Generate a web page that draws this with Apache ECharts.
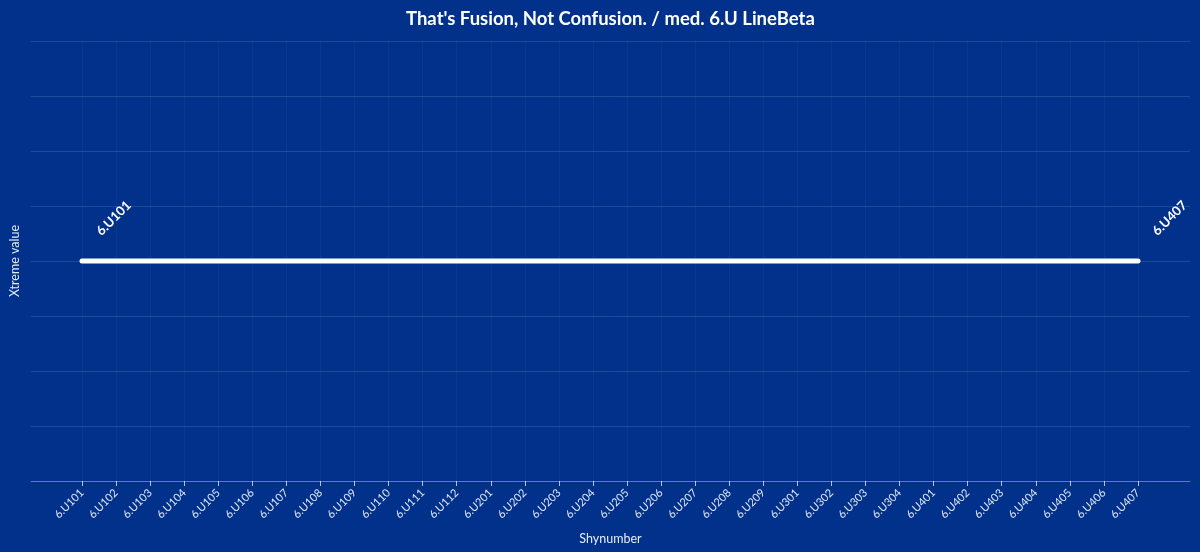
<!DOCTYPE html>
<html><head><meta charset="utf-8">
<script src="https://cdn.jsdelivr.net/npm/echarts@6/dist/echarts.min.js"></script>
<style>html,body{margin:0;padding:0;background:#01318a;}#c{width:1200px;height:552px;}</style>
</head><body><div id="c"></div>
<script>
const categories = ['6.U101','6.U102','6.U103','6.U104','6.U105','6.U106','6.U107','6.U108','6.U109','6.U110','6.U111','6.U112',
  '6.U201','6.U202','6.U203','6.U204','6.U205','6.U206','6.U207','6.U208','6.U209',
  '6.U301','6.U302','6.U303','6.U304',
  '6.U401','6.U402','6.U403','6.U404','6.U405','6.U406','6.U407'];
const values = [4,4,4,4,4,4,4,4,4,4,4,4,4,4,4,4,4,4,4,4,4,4,4,4,4,4,4,4,4,4,4,4];
const titleText = "That's Fusion, Not Confusion. / med. 6.U LineBeta";

const FONT = 'Lato';
const endLabel = {show:true, rotate:45, position:'top', distance:0, align:'left', verticalAlign:'bottom',
  offset:[31,-1], color:'#ffffff', fontWeight:'bold', fontSize:13, fontFamily:FONT, formatter:'{b}'};
const seriesData = values.map((v,i)=>{
  const d = {value:v};
  if (i===0 || i===values.length-1) d.label = endLabel;
  return d;
});

const chart = echarts.init(document.getElementById('c'));
chart.setOption({
  backgroundColor:'#01318a',
  animation:false,
  textStyle:{fontFamily:FONT},
  title:{text:titleText, left:401, top:5,
    textStyle:{color:'#ffffff', fontSize:18.5, fontWeight:'bold', fontFamily:FONT}},
  grid:[
    {left:30, right:10, top:41, bottom:71, containLabel:false},
    {left:82, right:62, top:41, bottom:71, containLabel:false}
  ],
  xAxis:[
    {type:'value', gridIndex:0, min:0, max:1, axisLabel:{show:false}, axisTick:{show:false}, splitLine:{show:false},
     axisLine:{show:true, lineStyle:{color:'rgba(255,255,255,0.28)', width:1}},
     name:'Shynumber', nameLocation:'middle', nameGap:51,
     nameTextStyle:{color:'#e6ecf8', fontSize:12.5, fontFamily:FONT}},
    {type:'category', gridIndex:1, data:categories, boundaryGap:false,
     axisLine:{show:false},
     axisTick:{show:true, alignWithLabel:true, length:5, lineStyle:{color:'rgba(220,230,250,0.8)'}},
     axisLabel:{rotate:45, interval:0, color:'#dfe7f7', fontSize:11, margin:10, fontFamily:FONT},
     splitLine:{show:true, lineStyle:{color:'rgba(255,255,255,0.035)', width:1}}}
  ],
  yAxis:[
    {type:'value', gridIndex:0, min:0, max:8, interval:1, axisLabel:{show:false}, axisTick:{show:false}, axisLine:{show:false},
     splitLine:{show:true, lineStyle:{color:'rgba(255,255,255,0.12)', width:1}},
     name:'Xtreme value', nameLocation:'middle', nameGap:10,
     nameTextStyle:{color:'#e6ecf8', fontSize:12.5, fontFamily:FONT}},
    {type:'value', gridIndex:1, min:0, max:8, interval:1, show:false, splitLine:{show:false}}
  ],
  series:[{
    type:'line', xAxisIndex:1, yAxisIndex:1, data:seriesData,
    symbol:'circle', symbolSize:1, showSymbol:true,
    itemStyle:{color:'#ffffff'},
    lineStyle:{color:'#ffffff', width:5, cap:'round', join:'round'},
    label:{show:false}
  }]
});
</script></body></html>
